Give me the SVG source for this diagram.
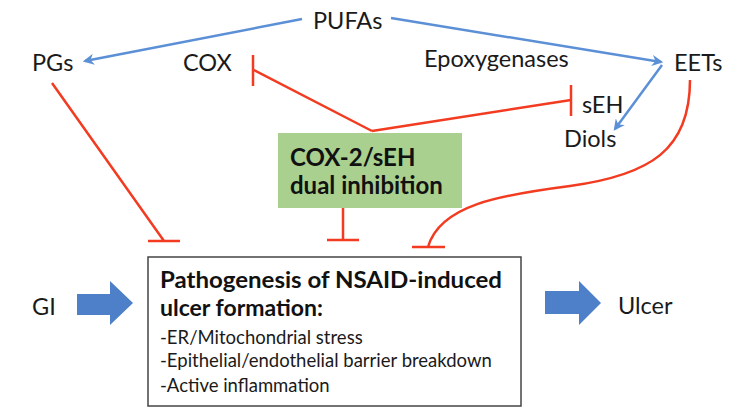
<svg xmlns="http://www.w3.org/2000/svg" width="738" height="414" viewBox="0 0 738 414">
<style>
.t{font-family:Lato,"Open Sans","Liberation Sans",sans-serif;font-size:23.5px;fill:#1a1a1a}
.b{font-family:Lato,"Open Sans","Liberation Sans",sans-serif;font-weight:bold;font-size:24px;fill:#111}
.bt{font-family:Lato,"Open Sans","Liberation Sans",sans-serif;font-weight:bold;font-size:23px;fill:#111}
.s{font-family:Lato,"Open Sans","Liberation Sans",sans-serif;font-size:18.5px;fill:#1a1a1a}
.red{stroke:#f23b20;stroke-width:2.5;fill:none}
.blue{stroke:#5b8fd6;stroke-width:2.5;fill:none}
.blk{fill:#4d80c8}
</style>
<defs>
<marker id="ah" viewBox="0 0 10 10" refX="8" refY="5" markerWidth="4.5" markerHeight="4.5" orient="auto" markerUnits="strokeWidth">
<path d="M0,0 L10,5 L0,10 L3,5 Z" fill="#5b8fd6"/>
</marker>
</defs>
<rect width="738" height="414" fill="#fff"/>
<g id="connectors">
<path class="blue" d="M302,19 L85,61" marker-end="url(#ah)"/>
<path class="blue" d="M391,18 L661,62" marker-end="url(#ah)"/>
<path class="blue" d="M662,65 L615,129" marker-end="url(#ah)"/>
<path class="red" d="M52,83 L164,241 M148,241 L180,241"/>
<path class="red" d="M372,131 L254,70 M253,55 L253,86"/>
<path class="red" d="M372,131 L571,100 M571,85 L571,116"/>
<path class="red" d="M343,208 L343,240 M327,240 L359,240"/>
<path class="red" d="M690,80 C690,150 650,175 570,186 C500,195 440,205 428,247 M412,247 L445,247"/>
</g>
<g id="pufas"><text class="t" x="313" y="29">PUFAs</text></g>
<g id="pgs"><text class="t" x="32" y="71">PGs</text></g>
<g id="cox"><text class="t" x="183" y="71">COX</text></g>
<g id="epoxygenases"><text class="t" x="424" y="67">Epoxygenases</text></g>
<g id="eets"><text class="t" x="674" y="71">EETs</text></g>
<g id="seh"><text class="t" x="582" y="113">sEH</text></g>
<g id="diols"><text class="t" x="564" y="147">Diols</text></g>
<g id="dual">
<rect x="278" y="133" width="184" height="75" fill="#a9d08e"/>
<text class="b" x="290" y="166">COX-2/sEH</text>
<text class="b" x="290" y="194">dual inhibition</text>
</g>
<g id="gi">
<text class="t" x="32" y="315">GI</text>
<polygon class="blk" points="77,294 110,294 110,281 133,303 110,325 110,315 77,315"/>
</g>
<g id="pathogenesis">
<rect x="148" y="257" width="373" height="149" fill="#fff" stroke="#444" stroke-width="1.5"/>
<text class="bt" x="160" y="288" textLength="342" lengthAdjust="spacingAndGlyphs">Pathogenesis of NSAID-induced</text>
<text class="bt" x="160" y="316">ulcer formation:</text>
<text class="s" x="160" y="344">-ER/Mitochondrial stress</text>
<text class="s" x="160" y="367">-Epithelial/endothelial barrier breakdown</text>
<text class="s" x="160" y="392">-Active inflammation</text>
</g>
<g id="ulcer">
<polygon class="blk" points="545,291 579,291 579,281 601,303 579,325 579,314 545,314"/>
<text class="t" x="618" y="314">Ulcer</text>
</g>
</svg>
